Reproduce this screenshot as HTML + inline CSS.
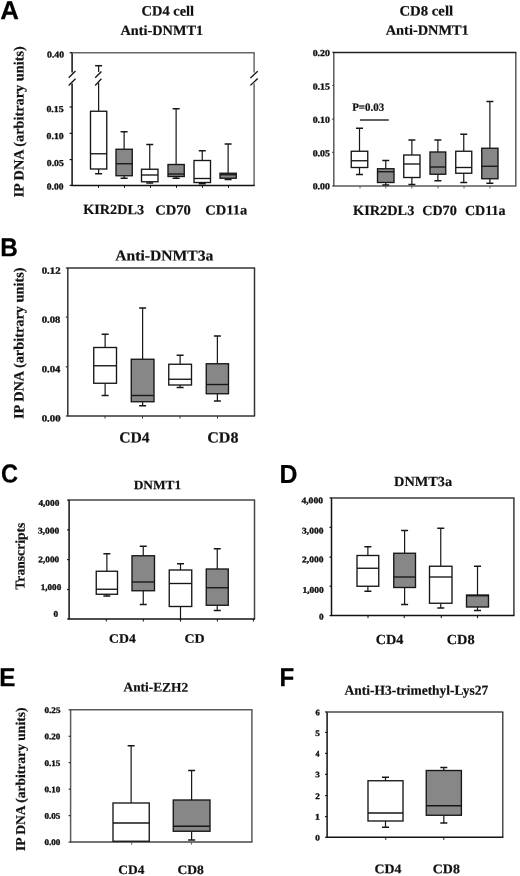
<!DOCTYPE html>
<html><head><meta charset="utf-8"><style>html,body{margin:0;padding:0;background:#fff;width:520px;height:876px;overflow:hidden;position:relative}</style></head>
<body>
<svg width="520" height="876" viewBox="0 0 520 876" style="position:absolute;left:0;top:0;filter:grayscale(1)">
<rect width="520" height="876" fill="#fff"/>
<text x="0.30" y="19.20" font-size="26" font-weight="bold" font-family='"Liberation Sans", sans-serif' fill="#000" stroke="#000" stroke-width="0.2" textLength="18.73" lengthAdjust="spacingAndGlyphs" transform="rotate(0.05 0.30 19.20)">A</text>
<text x="0.26" y="256.20" font-size="26" font-weight="bold" font-family='"Liberation Sans", sans-serif' fill="#000" stroke="#000" stroke-width="0.2" textLength="17.61" lengthAdjust="spacingAndGlyphs" transform="rotate(0.05 0.26 256.20)">B</text>
<text x="0.99" y="482.60" font-size="26" font-weight="bold" font-family='"Liberation Sans", sans-serif' fill="#000" stroke="#000" stroke-width="0.2" textLength="17.01" lengthAdjust="spacingAndGlyphs" transform="rotate(0.05 0.99 482.60)">C</text>
<text x="279.53" y="482.90" font-size="26" font-weight="bold" font-family='"Liberation Sans", sans-serif' fill="#000" stroke="#000" stroke-width="0.2" textLength="17.96" lengthAdjust="spacingAndGlyphs" transform="rotate(0.05 279.53 482.90)">D</text>
<text x="-0.84" y="686.20" font-size="26" font-weight="bold" font-family='"Liberation Sans", sans-serif' fill="#000" stroke="#000" stroke-width="0.2" textLength="16.23" lengthAdjust="spacingAndGlyphs" transform="rotate(0.05 -0.84 686.20)">E</text>
<text x="279.58" y="686.20" font-size="26" font-weight="bold" font-family='"Liberation Sans", sans-serif' fill="#000" stroke="#000" stroke-width="0.2" textLength="14.75" lengthAdjust="spacingAndGlyphs" transform="rotate(0.05 279.58 686.20)">F</text>
<line x1="72.10" y1="52.70" x2="72.10" y2="72.50" stroke="#121212" stroke-width="1.5" stroke-linecap="butt"/>
<line x1="72.10" y1="83.50" x2="72.10" y2="185.40" stroke="#121212" stroke-width="1.5" stroke-linecap="butt"/>
<line x1="254.10" y1="52.70" x2="254.10" y2="72.50" stroke="#666" stroke-width="1.5" stroke-linecap="butt"/>
<line x1="254.10" y1="83.50" x2="254.10" y2="185.40" stroke="#666" stroke-width="1.5" stroke-linecap="butt"/>
<line x1="71.50" y1="52.70" x2="254.70" y2="52.70" stroke="#666" stroke-width="1.5" stroke-linecap="butt"/>
<line x1="71.50" y1="185.40" x2="254.70" y2="185.40" stroke="#121212" stroke-width="1.5" stroke-linecap="butt"/>
<line x1="68.70" y1="77.80" x2="75.50" y2="71.00" stroke="#121212" stroke-width="1.3" stroke-linecap="butt"/>
<line x1="68.70" y1="85.50" x2="75.50" y2="78.75" stroke="#121212" stroke-width="1.3" stroke-linecap="butt"/>
<line x1="250.40" y1="78.00" x2="257.70" y2="71.20" stroke="#121212" stroke-width="1.3" stroke-linecap="butt"/>
<line x1="250.40" y1="85.40" x2="257.70" y2="78.50" stroke="#121212" stroke-width="1.3" stroke-linecap="butt"/>
<line x1="69.60" y1="52.70" x2="72.10" y2="52.70" stroke="#121212" stroke-width="1.2" stroke-linecap="butt"/>
<line x1="69.60" y1="107.00" x2="72.10" y2="107.00" stroke="#121212" stroke-width="1.2" stroke-linecap="butt"/>
<line x1="69.60" y1="133.30" x2="72.10" y2="133.30" stroke="#121212" stroke-width="1.2" stroke-linecap="butt"/>
<line x1="69.60" y1="159.60" x2="72.10" y2="159.60" stroke="#121212" stroke-width="1.2" stroke-linecap="butt"/>
<line x1="69.60" y1="185.40" x2="72.10" y2="185.40" stroke="#121212" stroke-width="1.2" stroke-linecap="butt"/>
<line x1="98.50" y1="185.40" x2="98.50" y2="187.90" stroke="#121212" stroke-width="1.0" stroke-linecap="butt"/>
<line x1="124.50" y1="185.40" x2="124.50" y2="187.90" stroke="#121212" stroke-width="1.0" stroke-linecap="butt"/>
<line x1="150.50" y1="185.40" x2="150.50" y2="187.90" stroke="#121212" stroke-width="1.0" stroke-linecap="butt"/>
<line x1="176.50" y1="185.40" x2="176.50" y2="187.90" stroke="#121212" stroke-width="1.0" stroke-linecap="butt"/>
<line x1="202.50" y1="185.40" x2="202.50" y2="187.90" stroke="#121212" stroke-width="1.0" stroke-linecap="butt"/>
<line x1="228.50" y1="185.40" x2="228.50" y2="187.90" stroke="#121212" stroke-width="1.0" stroke-linecap="butt"/>
<line x1="98.62" y1="169.00" x2="98.62" y2="173.75" stroke="#161616" stroke-width="1.2" stroke-linecap="butt"/>
<line x1="95.12" y1="173.75" x2="102.12" y2="173.75" stroke="#161616" stroke-width="1.5" stroke-linecap="butt"/>
<rect x="90.5" y="111.25" width="16.25" height="57.75" fill="#fff" stroke="#161616" stroke-width="1.35"/>
<line x1="90.50" y1="153.75" x2="106.75" y2="153.75" stroke="#161616" stroke-width="1.35" stroke-linecap="butt"/>
<line x1="98.62" y1="65.70" x2="98.62" y2="72.00" stroke="#161616" stroke-width="1.2" stroke-linecap="butt"/>
<line x1="95.12" y1="65.70" x2="102.12" y2="65.70" stroke="#161616" stroke-width="1.5" stroke-linecap="butt"/>
<line x1="98.62" y1="83.00" x2="98.62" y2="111.25" stroke="#161616" stroke-width="1.2" stroke-linecap="butt"/>
<line x1="95.20" y1="77.80" x2="101.40" y2="71.50" stroke="#121212" stroke-width="1.3" stroke-linecap="butt"/>
<line x1="95.20" y1="85.50" x2="101.40" y2="78.75" stroke="#121212" stroke-width="1.3" stroke-linecap="butt"/>
<line x1="124.12" y1="131.75" x2="124.12" y2="149.25" stroke="#161616" stroke-width="1.2" stroke-linecap="butt"/>
<line x1="120.62" y1="131.75" x2="127.62" y2="131.75" stroke="#161616" stroke-width="1.5" stroke-linecap="butt"/>
<line x1="124.12" y1="175.75" x2="124.12" y2="178.25" stroke="#161616" stroke-width="1.2" stroke-linecap="butt"/>
<line x1="120.62" y1="178.25" x2="127.62" y2="178.25" stroke="#161616" stroke-width="1.5" stroke-linecap="butt"/>
<rect x="116" y="149.25" width="16.25" height="26.50" fill="#878787" stroke="#161616" stroke-width="1.35"/>
<line x1="116.00" y1="163.75" x2="132.25" y2="163.75" stroke="#161616" stroke-width="1.35" stroke-linecap="butt"/>
<line x1="149.75" y1="144.50" x2="149.75" y2="169.25" stroke="#161616" stroke-width="1.2" stroke-linecap="butt"/>
<line x1="146.25" y1="144.50" x2="153.25" y2="144.50" stroke="#161616" stroke-width="1.5" stroke-linecap="butt"/>
<line x1="149.75" y1="181.75" x2="149.75" y2="183.00" stroke="#161616" stroke-width="1.2" stroke-linecap="butt"/>
<line x1="146.25" y1="183.00" x2="153.25" y2="183.00" stroke="#161616" stroke-width="1.5" stroke-linecap="butt"/>
<rect x="141.5" y="169.25" width="16.50" height="12.50" fill="#fff" stroke="#161616" stroke-width="1.35"/>
<line x1="141.50" y1="175.00" x2="158.00" y2="175.00" stroke="#161616" stroke-width="1.35" stroke-linecap="butt"/>
<line x1="176.12" y1="108.75" x2="176.12" y2="164.50" stroke="#161616" stroke-width="1.2" stroke-linecap="butt"/>
<line x1="172.62" y1="108.75" x2="179.62" y2="108.75" stroke="#161616" stroke-width="1.5" stroke-linecap="butt"/>
<line x1="176.12" y1="176.50" x2="176.12" y2="178.25" stroke="#161616" stroke-width="1.2" stroke-linecap="butt"/>
<line x1="172.62" y1="178.25" x2="179.62" y2="178.25" stroke="#161616" stroke-width="1.5" stroke-linecap="butt"/>
<rect x="168" y="164.5" width="16.25" height="12.00" fill="#878787" stroke="#161616" stroke-width="1.35"/>
<line x1="168.00" y1="174.00" x2="184.25" y2="174.00" stroke="#161616" stroke-width="1.35" stroke-linecap="butt"/>
<line x1="202.25" y1="150.75" x2="202.25" y2="160.50" stroke="#161616" stroke-width="1.2" stroke-linecap="butt"/>
<line x1="198.75" y1="150.75" x2="205.75" y2="150.75" stroke="#161616" stroke-width="1.5" stroke-linecap="butt"/>
<line x1="202.25" y1="182.50" x2="202.25" y2="183.75" stroke="#161616" stroke-width="1.2" stroke-linecap="butt"/>
<line x1="198.75" y1="183.75" x2="205.75" y2="183.75" stroke="#161616" stroke-width="1.5" stroke-linecap="butt"/>
<rect x="194" y="160.5" width="16.50" height="22.00" fill="#fff" stroke="#161616" stroke-width="1.35"/>
<line x1="194.00" y1="178.50" x2="210.50" y2="178.50" stroke="#161616" stroke-width="1.35" stroke-linecap="butt"/>
<line x1="228.12" y1="144.00" x2="228.12" y2="173.25" stroke="#161616" stroke-width="1.2" stroke-linecap="butt"/>
<line x1="224.62" y1="144.00" x2="231.62" y2="144.00" stroke="#161616" stroke-width="1.5" stroke-linecap="butt"/>
<line x1="228.12" y1="178.25" x2="228.12" y2="179.50" stroke="#161616" stroke-width="1.2" stroke-linecap="butt"/>
<line x1="224.62" y1="179.50" x2="231.62" y2="179.50" stroke="#161616" stroke-width="1.5" stroke-linecap="butt"/>
<rect x="220" y="173.25" width="16.25" height="5.00" fill="#878787" stroke="#161616" stroke-width="1.35"/>
<line x1="220.00" y1="174.75" x2="236.25" y2="174.75" stroke="#161616" stroke-width="1.35" stroke-linecap="butt"/>
<text x="141.49" y="15.60" font-size="14.2" font-weight="bold" font-family='"Liberation Serif", serif' fill="#111" stroke="#111" stroke-width="0.2" textLength="52.64" lengthAdjust="spacingAndGlyphs" transform="rotate(0.05 141.49 15.60)">CD4 cell</text>
<text x="120.50" y="35.00" font-size="14.2" font-weight="bold" font-family='"Liberation Serif", serif' fill="#111" stroke="#111" stroke-width="0.2" textLength="82.62" lengthAdjust="spacingAndGlyphs" transform="rotate(0.05 120.50 35.00)">Anti-DNMT1</text>
<text x="83.25" y="214.10" font-size="14" font-weight="bold" font-family='"Liberation Serif", serif' fill="#111" stroke="#111" stroke-width="0.2" textLength="60.87" lengthAdjust="spacingAndGlyphs" transform="rotate(0.05 83.25 214.10)">KIR2DL3</text>
<text x="155.28" y="214.40" font-size="14" font-weight="bold" font-family='"Liberation Serif", serif' fill="#111" stroke="#111" stroke-width="0.2" textLength="35.62" lengthAdjust="spacingAndGlyphs" transform="rotate(0.05 155.28 214.40)">CD70</text>
<text x="205.28" y="214.40" font-size="14" font-weight="bold" font-family='"Liberation Serif", serif' fill="#111" stroke="#111" stroke-width="0.2" textLength="42.03" lengthAdjust="spacingAndGlyphs" transform="rotate(0.05 205.28 214.40)">CD11a</text>
<text x="23.50" y="197.45" font-size="14.2" font-weight="bold" font-family='"Liberation Serif", serif' fill="#111" stroke="#111" stroke-width="0.2" textLength="151.16" lengthAdjust="spacingAndGlyphs" transform="rotate(-89.95 23.50 197.45)">IP DNA (arbitrary units)</text>
<text x="47.03" y="57.40" font-size="9.0" font-weight="bold" font-family='"Liberation Serif", serif' fill="#111" stroke="#111" stroke-width="0.35" textLength="17.04" lengthAdjust="spacingAndGlyphs" transform="rotate(0.05 47.03 57.40)">0.40</text>
<text x="46.43" y="111.90" font-size="9.0" font-weight="bold" font-family='"Liberation Serif", serif' fill="#111" stroke="#111" stroke-width="0.35" textLength="17.25" lengthAdjust="spacingAndGlyphs" transform="rotate(0.05 46.43 111.90)">0.15</text>
<text x="46.63" y="138.90" font-size="9.0" font-weight="bold" font-family='"Liberation Serif", serif' fill="#111" stroke="#111" stroke-width="0.35" textLength="17.04" lengthAdjust="spacingAndGlyphs" transform="rotate(0.05 46.63 138.90)">0.10</text>
<text x="46.83" y="165.90" font-size="9.0" font-weight="bold" font-family='"Liberation Serif", serif' fill="#111" stroke="#111" stroke-width="0.35" textLength="16.94" lengthAdjust="spacingAndGlyphs" transform="rotate(0.05 46.83 165.90)">0.05</text>
<text x="46.84" y="189.50" font-size="9.0" font-weight="bold" font-family='"Liberation Serif", serif' fill="#111" stroke="#111" stroke-width="0.35" textLength="16.63" lengthAdjust="spacingAndGlyphs" transform="rotate(0.05 46.84 189.50)">0.00</text>
<line x1="333.80" y1="52.40" x2="333.80" y2="185.90" stroke="#5a5a5a" stroke-width="1.5" stroke-linecap="butt"/>
<line x1="515.80" y1="52.40" x2="515.80" y2="185.90" stroke="#5a5a5a" stroke-width="1.5" stroke-linecap="butt"/>
<line x1="333.20" y1="52.40" x2="516.40" y2="52.40" stroke="#202020" stroke-width="1.5" stroke-linecap="butt"/>
<line x1="333.20" y1="185.90" x2="516.40" y2="185.90" stroke="#5a5a5a" stroke-width="1.5" stroke-linecap="butt"/>
<line x1="332.30" y1="52.40" x2="333.80" y2="52.40" stroke="#333" stroke-width="1.2" stroke-linecap="butt"/>
<line x1="332.30" y1="85.50" x2="333.80" y2="85.50" stroke="#333" stroke-width="1.2" stroke-linecap="butt"/>
<line x1="332.30" y1="119.20" x2="333.80" y2="119.20" stroke="#333" stroke-width="1.2" stroke-linecap="butt"/>
<line x1="332.30" y1="152.40" x2="333.80" y2="152.40" stroke="#333" stroke-width="1.2" stroke-linecap="butt"/>
<line x1="332.30" y1="185.90" x2="333.80" y2="185.90" stroke="#333" stroke-width="1.2" stroke-linecap="butt"/>
<line x1="360.00" y1="185.90" x2="360.00" y2="188.40" stroke="#5a5a5a" stroke-width="1.0" stroke-linecap="butt"/>
<line x1="385.75" y1="185.90" x2="385.75" y2="188.40" stroke="#5a5a5a" stroke-width="1.0" stroke-linecap="butt"/>
<line x1="411.75" y1="185.90" x2="411.75" y2="188.40" stroke="#5a5a5a" stroke-width="1.0" stroke-linecap="butt"/>
<line x1="438.00" y1="185.90" x2="438.00" y2="188.40" stroke="#5a5a5a" stroke-width="1.0" stroke-linecap="butt"/>
<line x1="464.00" y1="185.90" x2="464.00" y2="188.40" stroke="#5a5a5a" stroke-width="1.0" stroke-linecap="butt"/>
<line x1="490.00" y1="185.90" x2="490.00" y2="188.40" stroke="#5a5a5a" stroke-width="1.0" stroke-linecap="butt"/>
<line x1="359.50" y1="128.25" x2="359.50" y2="151.25" stroke="#161616" stroke-width="1.2" stroke-linecap="butt"/>
<line x1="356.00" y1="128.25" x2="363.00" y2="128.25" stroke="#161616" stroke-width="1.5" stroke-linecap="butt"/>
<line x1="359.50" y1="167.50" x2="359.50" y2="174.50" stroke="#161616" stroke-width="1.2" stroke-linecap="butt"/>
<line x1="356.00" y1="174.50" x2="363.00" y2="174.50" stroke="#161616" stroke-width="1.5" stroke-linecap="butt"/>
<rect x="351.25" y="151.25" width="16.50" height="16.25" fill="#fff" stroke="#161616" stroke-width="1.35"/>
<line x1="351.25" y1="160.75" x2="367.75" y2="160.75" stroke="#161616" stroke-width="1.35" stroke-linecap="butt"/>
<line x1="385.75" y1="160.50" x2="385.75" y2="168.75" stroke="#161616" stroke-width="1.2" stroke-linecap="butt"/>
<line x1="382.25" y1="160.50" x2="389.25" y2="160.50" stroke="#161616" stroke-width="1.5" stroke-linecap="butt"/>
<line x1="385.75" y1="182.50" x2="385.75" y2="185.00" stroke="#161616" stroke-width="1.2" stroke-linecap="butt"/>
<line x1="382.25" y1="185.00" x2="389.25" y2="185.00" stroke="#161616" stroke-width="1.5" stroke-linecap="butt"/>
<rect x="377.5" y="168.75" width="16.50" height="13.75" fill="#878787" stroke="#161616" stroke-width="1.35"/>
<line x1="377.50" y1="171.75" x2="394.00" y2="171.75" stroke="#161616" stroke-width="1.35" stroke-linecap="butt"/>
<line x1="411.88" y1="140.00" x2="411.88" y2="155.00" stroke="#161616" stroke-width="1.2" stroke-linecap="butt"/>
<line x1="408.38" y1="140.00" x2="415.38" y2="140.00" stroke="#161616" stroke-width="1.5" stroke-linecap="butt"/>
<line x1="411.88" y1="177.50" x2="411.88" y2="184.50" stroke="#161616" stroke-width="1.2" stroke-linecap="butt"/>
<line x1="408.38" y1="184.50" x2="415.38" y2="184.50" stroke="#161616" stroke-width="1.5" stroke-linecap="butt"/>
<rect x="403.75" y="155" width="16.25" height="22.50" fill="#fff" stroke="#161616" stroke-width="1.35"/>
<line x1="403.75" y1="164.00" x2="420.00" y2="164.00" stroke="#161616" stroke-width="1.35" stroke-linecap="butt"/>
<line x1="437.88" y1="140.00" x2="437.88" y2="152.00" stroke="#161616" stroke-width="1.2" stroke-linecap="butt"/>
<line x1="434.38" y1="140.00" x2="441.38" y2="140.00" stroke="#161616" stroke-width="1.5" stroke-linecap="butt"/>
<line x1="437.88" y1="174.25" x2="437.88" y2="180.75" stroke="#161616" stroke-width="1.2" stroke-linecap="butt"/>
<line x1="434.38" y1="180.75" x2="441.38" y2="180.75" stroke="#161616" stroke-width="1.5" stroke-linecap="butt"/>
<rect x="430" y="152" width="15.75" height="22.25" fill="#878787" stroke="#161616" stroke-width="1.35"/>
<line x1="430.00" y1="167.00" x2="445.75" y2="167.00" stroke="#161616" stroke-width="1.35" stroke-linecap="butt"/>
<line x1="463.75" y1="134.25" x2="463.75" y2="151.25" stroke="#161616" stroke-width="1.2" stroke-linecap="butt"/>
<line x1="460.25" y1="134.25" x2="467.25" y2="134.25" stroke="#161616" stroke-width="1.5" stroke-linecap="butt"/>
<line x1="463.75" y1="173.25" x2="463.75" y2="182.50" stroke="#161616" stroke-width="1.2" stroke-linecap="butt"/>
<line x1="460.25" y1="182.50" x2="467.25" y2="182.50" stroke="#161616" stroke-width="1.5" stroke-linecap="butt"/>
<rect x="455.75" y="151.25" width="16.00" height="22.00" fill="#fff" stroke="#161616" stroke-width="1.35"/>
<line x1="455.75" y1="167.50" x2="471.75" y2="167.50" stroke="#161616" stroke-width="1.35" stroke-linecap="butt"/>
<line x1="489.88" y1="101.50" x2="489.88" y2="148.25" stroke="#161616" stroke-width="1.2" stroke-linecap="butt"/>
<line x1="486.38" y1="101.50" x2="493.38" y2="101.50" stroke="#161616" stroke-width="1.5" stroke-linecap="butt"/>
<line x1="489.88" y1="178.75" x2="489.88" y2="183.25" stroke="#161616" stroke-width="1.2" stroke-linecap="butt"/>
<line x1="486.38" y1="183.25" x2="493.38" y2="183.25" stroke="#161616" stroke-width="1.5" stroke-linecap="butt"/>
<rect x="481.75" y="148.25" width="16.25" height="30.50" fill="#878787" stroke="#161616" stroke-width="1.35"/>
<line x1="481.75" y1="166.25" x2="498.00" y2="166.25" stroke="#161616" stroke-width="1.35" stroke-linecap="butt"/>
<text x="352.20" y="110.80" font-size="11" font-weight="bold" font-family='"Liberation Serif", serif' fill="#111" stroke="#111" stroke-width="0.2" textLength="32.05" lengthAdjust="spacingAndGlyphs" transform="rotate(0.05 352.20 110.80)">P=0.03</text>
<line x1="359.90" y1="120.00" x2="388.75" y2="120.00" stroke="#3a3a3a" stroke-width="1.6" stroke-linecap="butt"/>
<text x="399.48" y="15.40" font-size="14.2" font-weight="bold" font-family='"Liberation Serif", serif' fill="#111" stroke="#111" stroke-width="0.2" textLength="53.65" lengthAdjust="spacingAndGlyphs" transform="rotate(0.05 399.48 15.40)">CD8 cell</text>
<text x="385.75" y="34.70" font-size="14.2" font-weight="bold" font-family='"Liberation Serif", serif' fill="#111" stroke="#111" stroke-width="0.2" textLength="82.98" lengthAdjust="spacingAndGlyphs" transform="rotate(0.05 385.75 34.70)">Anti-DNMT1</text>
<text x="353.04" y="214.90" font-size="14" font-weight="bold" font-family='"Liberation Serif", serif' fill="#111" stroke="#111" stroke-width="0.2" textLength="61.27" lengthAdjust="spacingAndGlyphs" transform="rotate(0.05 353.04 214.90)">KIR2DL3</text>
<text x="422.19" y="215.10" font-size="14" font-weight="bold" font-family='"Liberation Serif", serif' fill="#111" stroke="#111" stroke-width="0.2" textLength="34.59" lengthAdjust="spacingAndGlyphs" transform="rotate(0.05 422.19 215.10)">CD70</text>
<text x="464.90" y="215.10" font-size="14" font-weight="bold" font-family='"Liberation Serif", serif' fill="#111" stroke="#111" stroke-width="0.2" textLength="40.71" lengthAdjust="spacingAndGlyphs" transform="rotate(0.05 464.90 215.10)">CD11a</text>
<text x="312.73" y="55.90" font-size="9.2" font-weight="bold" font-family='"Liberation Serif", serif' fill="#111" stroke="#111" stroke-width="0.35" textLength="17.15" lengthAdjust="spacingAndGlyphs" transform="rotate(0.05 312.73 55.90)">0.20</text>
<text x="312.73" y="89.40" font-size="9.2" font-weight="bold" font-family='"Liberation Serif", serif' fill="#111" stroke="#111" stroke-width="0.35" textLength="17.15" lengthAdjust="spacingAndGlyphs" transform="rotate(0.05 312.73 89.40)">0.15</text>
<text x="312.73" y="122.70" font-size="9.2" font-weight="bold" font-family='"Liberation Serif", serif' fill="#111" stroke="#111" stroke-width="0.35" textLength="17.15" lengthAdjust="spacingAndGlyphs" transform="rotate(0.05 312.73 122.70)">0.10</text>
<text x="312.73" y="156.20" font-size="9.2" font-weight="bold" font-family='"Liberation Serif", serif' fill="#111" stroke="#111" stroke-width="0.35" textLength="17.15" lengthAdjust="spacingAndGlyphs" transform="rotate(0.05 312.73 156.20)">0.05</text>
<text x="312.73" y="189.20" font-size="9.2" font-weight="bold" font-family='"Liberation Serif", serif' fill="#111" stroke="#111" stroke-width="0.35" textLength="17.15" lengthAdjust="spacingAndGlyphs" transform="rotate(0.05 312.73 189.20)">0.00</text>
<line x1="67.80" y1="268.00" x2="67.80" y2="416.00" stroke="#333" stroke-width="1.5" stroke-linecap="butt"/>
<line x1="254.50" y1="268.00" x2="254.50" y2="416.00" stroke="#333" stroke-width="1.5" stroke-linecap="butt"/>
<line x1="67.20" y1="268.00" x2="255.10" y2="268.00" stroke="#333" stroke-width="1.5" stroke-linecap="butt"/>
<line x1="67.20" y1="416.00" x2="255.10" y2="416.00" stroke="#333" stroke-width="1.5" stroke-linecap="butt"/>
<line x1="65.80" y1="268.00" x2="67.80" y2="268.00" stroke="#333" stroke-width="1.2" stroke-linecap="butt"/>
<line x1="65.80" y1="317.10" x2="67.80" y2="317.10" stroke="#333" stroke-width="1.2" stroke-linecap="butt"/>
<line x1="65.80" y1="366.80" x2="67.80" y2="366.80" stroke="#333" stroke-width="1.2" stroke-linecap="butt"/>
<line x1="65.80" y1="416.00" x2="67.80" y2="416.00" stroke="#333" stroke-width="1.2" stroke-linecap="butt"/>
<line x1="105.00" y1="416.00" x2="105.00" y2="418.50" stroke="#333" stroke-width="1.0" stroke-linecap="butt"/>
<line x1="142.50" y1="416.00" x2="142.50" y2="418.50" stroke="#333" stroke-width="1.0" stroke-linecap="butt"/>
<line x1="180.00" y1="416.00" x2="180.00" y2="418.50" stroke="#333" stroke-width="1.0" stroke-linecap="butt"/>
<line x1="217.50" y1="416.00" x2="217.50" y2="418.50" stroke="#333" stroke-width="1.0" stroke-linecap="butt"/>
<line x1="105.12" y1="334.25" x2="105.12" y2="347.50" stroke="#161616" stroke-width="1.2" stroke-linecap="butt"/>
<line x1="101.62" y1="334.25" x2="108.62" y2="334.25" stroke="#161616" stroke-width="1.5" stroke-linecap="butt"/>
<line x1="105.12" y1="383.25" x2="105.12" y2="395.50" stroke="#161616" stroke-width="1.2" stroke-linecap="butt"/>
<line x1="101.62" y1="395.50" x2="108.62" y2="395.50" stroke="#161616" stroke-width="1.5" stroke-linecap="butt"/>
<rect x="93.75" y="347.5" width="22.75" height="35.75" fill="#fff" stroke="#161616" stroke-width="1.35"/>
<line x1="93.75" y1="365.75" x2="116.50" y2="365.75" stroke="#161616" stroke-width="1.35" stroke-linecap="butt"/>
<line x1="142.62" y1="308.00" x2="142.62" y2="359.25" stroke="#161616" stroke-width="1.2" stroke-linecap="butt"/>
<line x1="139.12" y1="308.00" x2="146.12" y2="308.00" stroke="#161616" stroke-width="1.5" stroke-linecap="butt"/>
<line x1="142.62" y1="401.75" x2="142.62" y2="405.75" stroke="#161616" stroke-width="1.2" stroke-linecap="butt"/>
<line x1="139.12" y1="405.75" x2="146.12" y2="405.75" stroke="#161616" stroke-width="1.5" stroke-linecap="butt"/>
<rect x="131.25" y="359.25" width="22.75" height="42.50" fill="#878787" stroke="#161616" stroke-width="1.35"/>
<line x1="131.25" y1="395.50" x2="154.00" y2="395.50" stroke="#161616" stroke-width="1.35" stroke-linecap="butt"/>
<line x1="180.12" y1="355.25" x2="180.12" y2="364.25" stroke="#161616" stroke-width="1.2" stroke-linecap="butt"/>
<line x1="176.62" y1="355.25" x2="183.62" y2="355.25" stroke="#161616" stroke-width="1.5" stroke-linecap="butt"/>
<line x1="180.12" y1="385.00" x2="180.12" y2="387.50" stroke="#161616" stroke-width="1.2" stroke-linecap="butt"/>
<line x1="176.62" y1="387.50" x2="183.62" y2="387.50" stroke="#161616" stroke-width="1.5" stroke-linecap="butt"/>
<rect x="168.75" y="364.25" width="22.75" height="20.75" fill="#fff" stroke="#161616" stroke-width="1.35"/>
<line x1="168.75" y1="379.25" x2="191.50" y2="379.25" stroke="#161616" stroke-width="1.35" stroke-linecap="butt"/>
<line x1="217.38" y1="336.00" x2="217.38" y2="363.75" stroke="#161616" stroke-width="1.2" stroke-linecap="butt"/>
<line x1="213.88" y1="336.00" x2="220.88" y2="336.00" stroke="#161616" stroke-width="1.5" stroke-linecap="butt"/>
<line x1="217.38" y1="393.75" x2="217.38" y2="401.00" stroke="#161616" stroke-width="1.2" stroke-linecap="butt"/>
<line x1="213.88" y1="401.00" x2="220.88" y2="401.00" stroke="#161616" stroke-width="1.5" stroke-linecap="butt"/>
<rect x="206.25" y="363.75" width="22.25" height="30.00" fill="#878787" stroke="#161616" stroke-width="1.35"/>
<line x1="206.25" y1="384.50" x2="228.50" y2="384.50" stroke="#161616" stroke-width="1.35" stroke-linecap="butt"/>
<text x="115.30" y="260.40" font-size="15" font-weight="bold" font-family='"Liberation Serif", serif' fill="#111" stroke="#111" stroke-width="0.2" textLength="98.08" lengthAdjust="spacingAndGlyphs" transform="rotate(0.05 115.30 260.40)">Anti-DNMT3a</text>
<text x="119.24" y="442.40" font-size="15.4" font-weight="bold" font-family='"Liberation Serif", serif' fill="#111" stroke="#111" stroke-width="0.2" textLength="30.45" lengthAdjust="spacingAndGlyphs" transform="rotate(0.05 119.24 442.40)">CD4</text>
<text x="207.22" y="442.40" font-size="15.4" font-weight="bold" font-family='"Liberation Serif", serif' fill="#111" stroke="#111" stroke-width="0.2" textLength="31.24" lengthAdjust="spacingAndGlyphs" transform="rotate(0.05 207.22 442.40)">CD8</text>
<text x="23.50" y="418.95" font-size="14.2" font-weight="bold" font-family='"Liberation Serif", serif' fill="#111" stroke="#111" stroke-width="0.2" textLength="151.46" lengthAdjust="spacingAndGlyphs" transform="rotate(-89.95 23.50 418.95)">IP DNA (arbitrary units)</text>
<text x="41.72" y="273.70" font-size="9.6" font-weight="bold" font-family='"Liberation Serif", serif' fill="#111" stroke="#111" stroke-width="0.35" textLength="18.81" lengthAdjust="spacingAndGlyphs" transform="rotate(0.05 41.72 273.70)">0.12</text>
<text x="41.72" y="322.80" font-size="9.6" font-weight="bold" font-family='"Liberation Serif", serif' fill="#111" stroke="#111" stroke-width="0.35" textLength="18.53" lengthAdjust="spacingAndGlyphs" transform="rotate(0.05 41.72 322.80)">0.08</text>
<text x="41.72" y="372.30" font-size="9.6" font-weight="bold" font-family='"Liberation Serif", serif' fill="#111" stroke="#111" stroke-width="0.35" textLength="18.53" lengthAdjust="spacingAndGlyphs" transform="rotate(0.05 41.72 372.30)">0.04</text>
<text x="41.72" y="421.40" font-size="9.6" font-weight="bold" font-family='"Liberation Serif", serif' fill="#111" stroke="#111" stroke-width="0.35" textLength="18.81" lengthAdjust="spacingAndGlyphs" transform="rotate(0.05 41.72 421.40)">0.00</text>
<line x1="69.10" y1="500.10" x2="69.10" y2="619.00" stroke="#121212" stroke-width="1.5" stroke-linecap="butt"/>
<line x1="254.50" y1="500.10" x2="254.50" y2="619.00" stroke="#444" stroke-width="1.5" stroke-linecap="butt"/>
<line x1="68.50" y1="500.10" x2="255.10" y2="500.10" stroke="#444" stroke-width="1.5" stroke-linecap="butt"/>
<line x1="68.50" y1="619.00" x2="255.10" y2="619.00" stroke="#121212" stroke-width="1.5" stroke-linecap="butt"/>
<line x1="67.10" y1="500.10" x2="69.10" y2="500.10" stroke="#121212" stroke-width="1.2" stroke-linecap="butt"/>
<line x1="67.10" y1="529.90" x2="69.10" y2="529.90" stroke="#121212" stroke-width="1.2" stroke-linecap="butt"/>
<line x1="67.10" y1="559.60" x2="69.10" y2="559.60" stroke="#121212" stroke-width="1.2" stroke-linecap="butt"/>
<line x1="67.10" y1="589.50" x2="69.10" y2="589.50" stroke="#121212" stroke-width="1.2" stroke-linecap="butt"/>
<line x1="67.10" y1="619.00" x2="69.10" y2="619.00" stroke="#121212" stroke-width="1.2" stroke-linecap="butt"/>
<line x1="106.30" y1="619.00" x2="106.30" y2="621.50" stroke="#121212" stroke-width="1.0" stroke-linecap="butt"/>
<line x1="143.30" y1="619.00" x2="143.30" y2="621.50" stroke="#121212" stroke-width="1.0" stroke-linecap="butt"/>
<line x1="217.40" y1="619.00" x2="217.40" y2="621.50" stroke="#121212" stroke-width="1.0" stroke-linecap="butt"/>
<line x1="253.40" y1="619.00" x2="253.40" y2="621.50" stroke="#121212" stroke-width="1.0" stroke-linecap="butt"/>
<line x1="106.88" y1="553.75" x2="106.88" y2="571.25" stroke="#161616" stroke-width="1.2" stroke-linecap="butt"/>
<line x1="103.38" y1="553.75" x2="110.38" y2="553.75" stroke="#161616" stroke-width="1.5" stroke-linecap="butt"/>
<line x1="106.88" y1="594.25" x2="106.88" y2="596.00" stroke="#161616" stroke-width="1.2" stroke-linecap="butt"/>
<line x1="103.38" y1="596.00" x2="110.38" y2="596.00" stroke="#161616" stroke-width="1.5" stroke-linecap="butt"/>
<rect x="96.25" y="571.25" width="21.25" height="23.00" fill="#fff" stroke="#161616" stroke-width="1.35"/>
<line x1="96.25" y1="589.25" x2="117.50" y2="589.25" stroke="#161616" stroke-width="1.35" stroke-linecap="butt"/>
<line x1="143.25" y1="546.25" x2="143.25" y2="555.75" stroke="#161616" stroke-width="1.2" stroke-linecap="butt"/>
<line x1="139.75" y1="546.25" x2="146.75" y2="546.25" stroke="#161616" stroke-width="1.5" stroke-linecap="butt"/>
<line x1="143.25" y1="590.75" x2="143.25" y2="604.50" stroke="#161616" stroke-width="1.2" stroke-linecap="butt"/>
<line x1="139.75" y1="604.50" x2="146.75" y2="604.50" stroke="#161616" stroke-width="1.5" stroke-linecap="butt"/>
<rect x="132" y="555.75" width="22.50" height="35.00" fill="#878787" stroke="#161616" stroke-width="1.35"/>
<line x1="132.00" y1="582.00" x2="154.50" y2="582.00" stroke="#161616" stroke-width="1.35" stroke-linecap="butt"/>
<line x1="180.50" y1="563.75" x2="180.50" y2="570.00" stroke="#161616" stroke-width="1.2" stroke-linecap="butt"/>
<line x1="177.00" y1="563.75" x2="184.00" y2="563.75" stroke="#161616" stroke-width="1.5" stroke-linecap="butt"/>
<line x1="180.50" y1="606.50" x2="180.50" y2="621.50" stroke="#161616" stroke-width="1.2" stroke-linecap="butt"/>
<rect x="169.25" y="570" width="22.50" height="36.50" fill="#fff" stroke="#161616" stroke-width="1.35"/>
<line x1="169.25" y1="583.50" x2="191.75" y2="583.50" stroke="#161616" stroke-width="1.35" stroke-linecap="butt"/>
<line x1="217.25" y1="548.75" x2="217.25" y2="569.00" stroke="#161616" stroke-width="1.2" stroke-linecap="butt"/>
<line x1="213.75" y1="548.75" x2="220.75" y2="548.75" stroke="#161616" stroke-width="1.5" stroke-linecap="butt"/>
<line x1="217.25" y1="605.25" x2="217.25" y2="610.50" stroke="#161616" stroke-width="1.2" stroke-linecap="butt"/>
<line x1="213.75" y1="610.50" x2="220.75" y2="610.50" stroke="#161616" stroke-width="1.5" stroke-linecap="butt"/>
<rect x="206.25" y="569" width="22.00" height="36.25" fill="#878787" stroke="#161616" stroke-width="1.35"/>
<line x1="206.25" y1="587.75" x2="228.25" y2="587.75" stroke="#161616" stroke-width="1.35" stroke-linecap="butt"/>
<text x="133.70" y="489.30" font-size="13" font-weight="bold" font-family='"Liberation Serif", serif' fill="#111" stroke="#111" stroke-width="0.2" textLength="47.54" lengthAdjust="spacingAndGlyphs" transform="rotate(0.05 133.70 489.30)">DNMT1</text>
<text x="109.12" y="642.70" font-size="12.9" font-weight="bold" font-family='"Liberation Serif", serif' fill="#111" stroke="#111" stroke-width="0.2" textLength="26.66" lengthAdjust="spacingAndGlyphs" transform="rotate(0.05 109.12 642.70)">CD4</text>
<text x="184.46" y="642.70" font-size="12.9" font-weight="bold" font-family='"Liberation Serif", serif' fill="#111" stroke="#111" stroke-width="0.2" textLength="20.22" lengthAdjust="spacingAndGlyphs" transform="rotate(0.05 184.46 642.70)">CD</text>
<text x="24.60" y="589.70" font-size="13.6" font-weight="bold" font-family='"Liberation Serif", serif' fill="#111" stroke="#111" stroke-width="0.2" textLength="67.12" lengthAdjust="spacingAndGlyphs" transform="rotate(-89.95 24.60 589.70)">Transcripts</text>
<text x="38.40" y="505.80" font-size="8.6" font-weight="bold" font-family='"Liberation Serif", serif' fill="#111" stroke="#111" stroke-width="0.35" textLength="20.90" lengthAdjust="spacingAndGlyphs" transform="rotate(0.05 38.40 505.80)">4,000</text>
<text x="37.92" y="533.50" font-size="8.6" font-weight="bold" font-family='"Liberation Serif", serif' fill="#111" stroke="#111" stroke-width="0.35" textLength="21.38" lengthAdjust="spacingAndGlyphs" transform="rotate(0.05 37.92 533.50)">3,000</text>
<text x="38.38" y="562.20" font-size="8.6" font-weight="bold" font-family='"Liberation Serif", serif' fill="#111" stroke="#111" stroke-width="0.35" textLength="20.72" lengthAdjust="spacingAndGlyphs" transform="rotate(0.05 38.38 562.20)">2,000</text>
<text x="40.72" y="589.90" font-size="8.6" font-weight="bold" font-family='"Liberation Serif", serif' fill="#111" stroke="#111" stroke-width="0.35" textLength="20.48" lengthAdjust="spacingAndGlyphs" transform="rotate(0.05 40.72 589.90)">1,000</text>
<text x="53.53" y="616.80" font-size="8.6" font-weight="bold" font-family='"Liberation Serif", serif' fill="#111" stroke="#111" stroke-width="0.35" textLength="4.62" lengthAdjust="spacingAndGlyphs" transform="rotate(0.05 53.53 616.80)">0</text>
<line x1="331.50" y1="497.90" x2="331.50" y2="615.60" stroke="#121212" stroke-width="1.5" stroke-linecap="butt"/>
<line x1="513.90" y1="497.90" x2="513.90" y2="615.60" stroke="#3a3a3a" stroke-width="1.5" stroke-linecap="butt"/>
<line x1="330.90" y1="497.90" x2="514.50" y2="497.90" stroke="#3a3a3a" stroke-width="1.5" stroke-linecap="butt"/>
<line x1="330.90" y1="615.60" x2="514.50" y2="615.60" stroke="#121212" stroke-width="1.5" stroke-linecap="butt"/>
<line x1="329.50" y1="497.90" x2="331.50" y2="497.90" stroke="#121212" stroke-width="1.2" stroke-linecap="butt"/>
<line x1="329.50" y1="527.30" x2="331.50" y2="527.30" stroke="#121212" stroke-width="1.2" stroke-linecap="butt"/>
<line x1="329.50" y1="557.10" x2="331.50" y2="557.10" stroke="#121212" stroke-width="1.2" stroke-linecap="butt"/>
<line x1="329.50" y1="586.20" x2="331.50" y2="586.20" stroke="#121212" stroke-width="1.2" stroke-linecap="butt"/>
<line x1="329.50" y1="615.60" x2="331.50" y2="615.60" stroke="#121212" stroke-width="1.2" stroke-linecap="butt"/>
<line x1="368.00" y1="615.60" x2="368.00" y2="618.10" stroke="#121212" stroke-width="1.0" stroke-linecap="butt"/>
<line x1="404.25" y1="615.60" x2="404.25" y2="618.10" stroke="#121212" stroke-width="1.0" stroke-linecap="butt"/>
<line x1="441.25" y1="615.60" x2="441.25" y2="618.10" stroke="#121212" stroke-width="1.0" stroke-linecap="butt"/>
<line x1="477.50" y1="615.60" x2="477.50" y2="618.10" stroke="#121212" stroke-width="1.0" stroke-linecap="butt"/>
<line x1="367.88" y1="546.75" x2="367.88" y2="555.50" stroke="#161616" stroke-width="1.2" stroke-linecap="butt"/>
<line x1="364.38" y1="546.75" x2="371.38" y2="546.75" stroke="#161616" stroke-width="1.5" stroke-linecap="butt"/>
<line x1="367.88" y1="586.25" x2="367.88" y2="591.25" stroke="#161616" stroke-width="1.2" stroke-linecap="butt"/>
<line x1="364.38" y1="591.25" x2="371.38" y2="591.25" stroke="#161616" stroke-width="1.5" stroke-linecap="butt"/>
<rect x="357" y="555.5" width="21.75" height="30.75" fill="#fff" stroke="#161616" stroke-width="1.35"/>
<line x1="357.00" y1="568.25" x2="378.75" y2="568.25" stroke="#161616" stroke-width="1.35" stroke-linecap="butt"/>
<line x1="404.62" y1="530.50" x2="404.62" y2="553.25" stroke="#161616" stroke-width="1.2" stroke-linecap="butt"/>
<line x1="401.12" y1="530.50" x2="408.12" y2="530.50" stroke="#161616" stroke-width="1.5" stroke-linecap="butt"/>
<line x1="404.62" y1="587.50" x2="404.62" y2="604.50" stroke="#161616" stroke-width="1.2" stroke-linecap="butt"/>
<line x1="401.12" y1="604.50" x2="408.12" y2="604.50" stroke="#161616" stroke-width="1.5" stroke-linecap="butt"/>
<rect x="393.75" y="553.25" width="21.75" height="34.25" fill="#878787" stroke="#161616" stroke-width="1.35"/>
<line x1="393.75" y1="577.00" x2="415.50" y2="577.00" stroke="#161616" stroke-width="1.35" stroke-linecap="butt"/>
<line x1="440.75" y1="528.25" x2="440.75" y2="566.25" stroke="#161616" stroke-width="1.2" stroke-linecap="butt"/>
<line x1="437.25" y1="528.25" x2="444.25" y2="528.25" stroke="#161616" stroke-width="1.5" stroke-linecap="butt"/>
<line x1="440.75" y1="603.25" x2="440.75" y2="608.00" stroke="#161616" stroke-width="1.2" stroke-linecap="butt"/>
<line x1="437.25" y1="608.00" x2="444.25" y2="608.00" stroke="#161616" stroke-width="1.5" stroke-linecap="butt"/>
<rect x="429.5" y="566.25" width="22.50" height="37.00" fill="#fff" stroke="#161616" stroke-width="1.35"/>
<line x1="429.50" y1="577.00" x2="452.00" y2="577.00" stroke="#161616" stroke-width="1.35" stroke-linecap="butt"/>
<line x1="477.50" y1="566.25" x2="477.50" y2="595.00" stroke="#161616" stroke-width="1.2" stroke-linecap="butt"/>
<line x1="474.00" y1="566.25" x2="481.00" y2="566.25" stroke="#161616" stroke-width="1.5" stroke-linecap="butt"/>
<line x1="477.50" y1="607.00" x2="477.50" y2="610.50" stroke="#161616" stroke-width="1.2" stroke-linecap="butt"/>
<line x1="474.00" y1="610.50" x2="481.00" y2="610.50" stroke="#161616" stroke-width="1.5" stroke-linecap="butt"/>
<rect x="466.5" y="595" width="22.00" height="12.00" fill="#878787" stroke="#161616" stroke-width="1.35"/>
<line x1="466.50" y1="595.75" x2="488.50" y2="595.75" stroke="#161616" stroke-width="1.35" stroke-linecap="butt"/>
<text x="394.14" y="486.00" font-size="13.9" font-weight="bold" font-family='"Liberation Serif", serif' fill="#111" stroke="#111" stroke-width="0.2" textLength="58.05" lengthAdjust="spacingAndGlyphs" transform="rotate(0.05 394.14 486.00)">DNMT3a</text>
<text x="375.79" y="644.00" font-size="13.9" font-weight="bold" font-family='"Liberation Serif", serif' fill="#111" stroke="#111" stroke-width="0.2" textLength="27.68" lengthAdjust="spacingAndGlyphs" transform="rotate(0.05 375.79 644.00)">CD4</text>
<text x="446.68" y="644.00" font-size="13.9" font-weight="bold" font-family='"Liberation Serif", serif' fill="#111" stroke="#111" stroke-width="0.2" textLength="27.89" lengthAdjust="spacingAndGlyphs" transform="rotate(0.05 446.68 644.00)">CD8</text>
<text x="301.40" y="503.30" font-size="8.6" font-weight="bold" font-family='"Liberation Serif", serif' fill="#111" stroke="#111" stroke-width="0.35" textLength="21.60" lengthAdjust="spacingAndGlyphs" transform="rotate(0.05 301.40 503.30)">4,000</text>
<text x="302.02" y="533.50" font-size="8.6" font-weight="bold" font-family='"Liberation Serif", serif' fill="#111" stroke="#111" stroke-width="0.35" textLength="21.38" lengthAdjust="spacingAndGlyphs" transform="rotate(0.05 302.02 533.50)">3,000</text>
<text x="302.02" y="562.20" font-size="8.6" font-weight="bold" font-family='"Liberation Serif", serif' fill="#111" stroke="#111" stroke-width="0.35" textLength="21.38" lengthAdjust="spacingAndGlyphs" transform="rotate(0.05 302.02 562.20)">2,000</text>
<text x="302.45" y="592.80" font-size="8.6" font-weight="bold" font-family='"Liberation Serif", serif' fill="#111" stroke="#111" stroke-width="0.35" textLength="21.15" lengthAdjust="spacingAndGlyphs" transform="rotate(0.05 302.45 592.80)">1,000</text>
<text x="318.93" y="619.60" font-size="8.6" font-weight="bold" font-family='"Liberation Serif", serif' fill="#111" stroke="#111" stroke-width="0.35" textLength="4.62" lengthAdjust="spacingAndGlyphs" transform="rotate(0.05 318.93 619.60)">0</text>
<line x1="70.60" y1="709.80" x2="70.60" y2="842.10" stroke="#5a5a5a" stroke-width="1.5" stroke-linecap="butt"/>
<line x1="251.90" y1="709.80" x2="251.90" y2="842.10" stroke="#5a5a5a" stroke-width="1.5" stroke-linecap="butt"/>
<line x1="70.00" y1="709.80" x2="252.50" y2="709.80" stroke="#5a5a5a" stroke-width="1.5" stroke-linecap="butt"/>
<line x1="70.00" y1="842.10" x2="252.50" y2="842.10" stroke="#444" stroke-width="1.5" stroke-linecap="butt"/>
<line x1="68.60" y1="709.80" x2="70.60" y2="709.80" stroke="#333" stroke-width="1.2" stroke-linecap="butt"/>
<line x1="68.60" y1="736.30" x2="70.60" y2="736.30" stroke="#333" stroke-width="1.2" stroke-linecap="butt"/>
<line x1="68.60" y1="762.60" x2="70.60" y2="762.60" stroke="#333" stroke-width="1.2" stroke-linecap="butt"/>
<line x1="68.60" y1="789.20" x2="70.60" y2="789.20" stroke="#333" stroke-width="1.2" stroke-linecap="butt"/>
<line x1="68.60" y1="815.60" x2="70.60" y2="815.60" stroke="#333" stroke-width="1.2" stroke-linecap="butt"/>
<line x1="68.60" y1="842.10" x2="70.60" y2="842.10" stroke="#333" stroke-width="1.2" stroke-linecap="butt"/>
<line x1="131.70" y1="842.10" x2="131.70" y2="844.60" stroke="#5a5a5a" stroke-width="1.0" stroke-linecap="butt"/>
<line x1="191.40" y1="842.10" x2="191.40" y2="844.60" stroke="#5a5a5a" stroke-width="1.0" stroke-linecap="butt"/>
<line x1="131.12" y1="745.75" x2="131.12" y2="803.00" stroke="#161616" stroke-width="1.2" stroke-linecap="butt"/>
<line x1="127.62" y1="745.75" x2="134.62" y2="745.75" stroke="#161616" stroke-width="1.5" stroke-linecap="butt"/>
<rect x="113" y="803" width="36.25" height="38.25" fill="#fff" stroke="#161616" stroke-width="1.35"/>
<line x1="113.00" y1="823.00" x2="149.25" y2="823.00" stroke="#161616" stroke-width="1.35" stroke-linecap="butt"/>
<line x1="191.62" y1="770.50" x2="191.62" y2="800.00" stroke="#161616" stroke-width="1.2" stroke-linecap="butt"/>
<line x1="188.12" y1="770.50" x2="195.12" y2="770.50" stroke="#161616" stroke-width="1.5" stroke-linecap="butt"/>
<line x1="191.62" y1="831.25" x2="191.62" y2="840.00" stroke="#161616" stroke-width="1.2" stroke-linecap="butt"/>
<line x1="188.12" y1="840.00" x2="195.12" y2="840.00" stroke="#161616" stroke-width="1.5" stroke-linecap="butt"/>
<rect x="173.25" y="800" width="36.75" height="31.25" fill="#878787" stroke="#161616" stroke-width="1.35"/>
<line x1="173.25" y1="826.25" x2="210.00" y2="826.25" stroke="#161616" stroke-width="1.35" stroke-linecap="butt"/>
<text x="123.50" y="691.60" font-size="13.4" font-weight="bold" font-family='"Liberation Serif", serif' fill="#111" stroke="#111" stroke-width="0.2" textLength="64.58" lengthAdjust="spacingAndGlyphs" transform="rotate(0.05 123.50 691.60)">Anti-EZH2</text>
<text x="118.38" y="874.00" font-size="12.9" font-weight="bold" font-family='"Liberation Serif", serif' fill="#111" stroke="#111" stroke-width="0.2" textLength="26.00" lengthAdjust="spacingAndGlyphs" transform="rotate(0.05 118.38 874.00)">CD4</text>
<text x="177.58" y="874.00" font-size="12.9" font-weight="bold" font-family='"Liberation Serif", serif' fill="#111" stroke="#111" stroke-width="0.2" textLength="26.27" lengthAdjust="spacingAndGlyphs" transform="rotate(0.05 177.58 874.00)">CD8</text>
<text x="25.00" y="851.05" font-size="13.5" font-weight="bold" font-family='"Liberation Serif", serif' fill="#111" stroke="#111" stroke-width="0.2" textLength="143.53" lengthAdjust="spacingAndGlyphs" transform="rotate(-89.95 25.00 851.05)">IP DNA (arbitrary units)</text>
<text x="44.53" y="712.90" font-size="8.5" font-weight="bold" font-family='"Liberation Serif", serif' fill="#111" stroke="#111" stroke-width="0.35" textLength="16.00" lengthAdjust="spacingAndGlyphs" transform="rotate(0.05 44.53 712.90)">0.25</text>
<text x="44.53" y="739.20" font-size="8.5" font-weight="bold" font-family='"Liberation Serif", serif' fill="#111" stroke="#111" stroke-width="0.35" textLength="15.80" lengthAdjust="spacingAndGlyphs" transform="rotate(0.05 44.53 739.20)">0.20</text>
<text x="44.53" y="765.90" font-size="8.5" font-weight="bold" font-family='"Liberation Serif", serif' fill="#111" stroke="#111" stroke-width="0.35" textLength="15.90" lengthAdjust="spacingAndGlyphs" transform="rotate(0.05 44.53 765.90)">0.15</text>
<text x="44.53" y="792.30" font-size="8.5" font-weight="bold" font-family='"Liberation Serif", serif' fill="#111" stroke="#111" stroke-width="0.35" textLength="15.90" lengthAdjust="spacingAndGlyphs" transform="rotate(0.05 44.53 792.30)">0.10</text>
<text x="44.53" y="818.80" font-size="8.5" font-weight="bold" font-family='"Liberation Serif", serif' fill="#111" stroke="#111" stroke-width="0.35" textLength="15.90" lengthAdjust="spacingAndGlyphs" transform="rotate(0.05 44.53 818.80)">0.05</text>
<text x="44.53" y="845.00" font-size="8.5" font-weight="bold" font-family='"Liberation Serif", serif' fill="#111" stroke="#111" stroke-width="0.35" textLength="15.90" lengthAdjust="spacingAndGlyphs" transform="rotate(0.05 44.53 845.00)">0.00</text>
<line x1="327.10" y1="712.00" x2="327.10" y2="837.30" stroke="#121212" stroke-width="1.5" stroke-linecap="butt"/>
<line x1="502.75" y1="712.00" x2="502.75" y2="837.30" stroke="#4a4a4a" stroke-width="1.5" stroke-linecap="butt"/>
<line x1="326.50" y1="712.00" x2="503.35" y2="712.00" stroke="#4a4a4a" stroke-width="1.5" stroke-linecap="butt"/>
<line x1="326.50" y1="837.30" x2="503.35" y2="837.30" stroke="#121212" stroke-width="1.5" stroke-linecap="butt"/>
<line x1="325.10" y1="712.00" x2="327.10" y2="712.00" stroke="#121212" stroke-width="1.2" stroke-linecap="butt"/>
<line x1="325.10" y1="732.40" x2="327.10" y2="732.40" stroke="#121212" stroke-width="1.2" stroke-linecap="butt"/>
<line x1="325.10" y1="753.40" x2="327.10" y2="753.40" stroke="#121212" stroke-width="1.2" stroke-linecap="butt"/>
<line x1="325.10" y1="774.40" x2="327.10" y2="774.40" stroke="#121212" stroke-width="1.2" stroke-linecap="butt"/>
<line x1="325.10" y1="795.60" x2="327.10" y2="795.60" stroke="#121212" stroke-width="1.2" stroke-linecap="butt"/>
<line x1="325.10" y1="816.60" x2="327.10" y2="816.60" stroke="#121212" stroke-width="1.2" stroke-linecap="butt"/>
<line x1="325.10" y1="837.30" x2="327.10" y2="837.30" stroke="#121212" stroke-width="1.2" stroke-linecap="butt"/>
<line x1="385.75" y1="837.30" x2="385.75" y2="839.80" stroke="#121212" stroke-width="1.0" stroke-linecap="butt"/>
<line x1="443.75" y1="837.30" x2="443.75" y2="839.80" stroke="#121212" stroke-width="1.0" stroke-linecap="butt"/>
<line x1="385.50" y1="777.25" x2="385.50" y2="780.75" stroke="#161616" stroke-width="1.2" stroke-linecap="butt"/>
<line x1="382.00" y1="777.25" x2="389.00" y2="777.25" stroke="#161616" stroke-width="1.5" stroke-linecap="butt"/>
<line x1="385.50" y1="821.00" x2="385.50" y2="827.25" stroke="#161616" stroke-width="1.2" stroke-linecap="butt"/>
<line x1="382.00" y1="827.25" x2="389.00" y2="827.25" stroke="#161616" stroke-width="1.5" stroke-linecap="butt"/>
<rect x="368" y="780.75" width="35.00" height="40.25" fill="#fff" stroke="#161616" stroke-width="1.35"/>
<line x1="368.00" y1="813.00" x2="403.00" y2="813.00" stroke="#161616" stroke-width="1.35" stroke-linecap="butt"/>
<line x1="443.82" y1="767.50" x2="443.82" y2="770.50" stroke="#161616" stroke-width="1.2" stroke-linecap="butt"/>
<line x1="440.32" y1="767.50" x2="447.32" y2="767.50" stroke="#161616" stroke-width="1.5" stroke-linecap="butt"/>
<line x1="443.82" y1="815.25" x2="443.82" y2="823.00" stroke="#161616" stroke-width="1.2" stroke-linecap="butt"/>
<line x1="440.32" y1="823.00" x2="447.32" y2="823.00" stroke="#161616" stroke-width="1.5" stroke-linecap="butt"/>
<rect x="426.25" y="770.5" width="35.15" height="44.75" fill="#878787" stroke="#161616" stroke-width="1.35"/>
<line x1="426.25" y1="805.75" x2="461.40" y2="805.75" stroke="#161616" stroke-width="1.35" stroke-linecap="butt"/>
<text x="344.50" y="694.70" font-size="13.7" font-weight="bold" font-family='"Liberation Serif", serif' fill="#111" stroke="#111" stroke-width="0.2" textLength="143.83" lengthAdjust="spacingAndGlyphs" transform="rotate(0.05 344.50 694.70)">Anti-H3-trimethyl-Lys27</text>
<text x="374.58" y="873.20" font-size="13.3" font-weight="bold" font-family='"Liberation Serif", serif' fill="#111" stroke="#111" stroke-width="0.2" textLength="26.93" lengthAdjust="spacingAndGlyphs" transform="rotate(0.05 374.58 873.20)">CD4</text>
<text x="432.78" y="873.20" font-size="13.3" font-weight="bold" font-family='"Liberation Serif", serif' fill="#111" stroke="#111" stroke-width="0.2" textLength="27.10" lengthAdjust="spacingAndGlyphs" transform="rotate(0.05 432.78 873.20)">CD8</text>
<text x="315.60" y="715.20" font-size="8.4" font-weight="bold" font-family='"Liberation Serif", serif' fill="#111" stroke="#111" stroke-width="0.35" textLength="4.29" lengthAdjust="spacingAndGlyphs" transform="rotate(0.05 315.60 715.20)">6</text>
<text x="315.33" y="735.90" font-size="8.4" font-weight="bold" font-family='"Liberation Serif", serif' fill="#111" stroke="#111" stroke-width="0.35" textLength="4.58" lengthAdjust="spacingAndGlyphs" transform="rotate(0.05 315.33 735.90)">5</text>
<text x="315.60" y="756.40" font-size="8.4" font-weight="bold" font-family='"Liberation Serif", serif' fill="#111" stroke="#111" stroke-width="0.35" textLength="4.04" lengthAdjust="spacingAndGlyphs" transform="rotate(0.05 315.60 756.40)">4</text>
<text x="315.33" y="777.30" font-size="8.4" font-weight="bold" font-family='"Liberation Serif", serif' fill="#111" stroke="#111" stroke-width="0.35" textLength="4.58" lengthAdjust="spacingAndGlyphs" transform="rotate(0.05 315.33 777.30)">3</text>
<text x="315.33" y="798.90" font-size="8.4" font-weight="bold" font-family='"Liberation Serif", serif' fill="#111" stroke="#111" stroke-width="0.35" textLength="4.58" lengthAdjust="spacingAndGlyphs" transform="rotate(0.05 315.33 798.90)">2</text>
<text x="315.01" y="819.60" font-size="8.4" font-weight="bold" font-family='"Liberation Serif", serif' fill="#111" stroke="#111" stroke-width="0.35" textLength="4.91" lengthAdjust="spacingAndGlyphs" transform="rotate(0.05 315.01 819.60)">1</text>
<text x="315.33" y="840.40" font-size="8.4" font-weight="bold" font-family='"Liberation Serif", serif' fill="#111" stroke="#111" stroke-width="0.35" textLength="4.58" lengthAdjust="spacingAndGlyphs" transform="rotate(0.05 315.33 840.40)">0</text>
</svg>
</body></html>
